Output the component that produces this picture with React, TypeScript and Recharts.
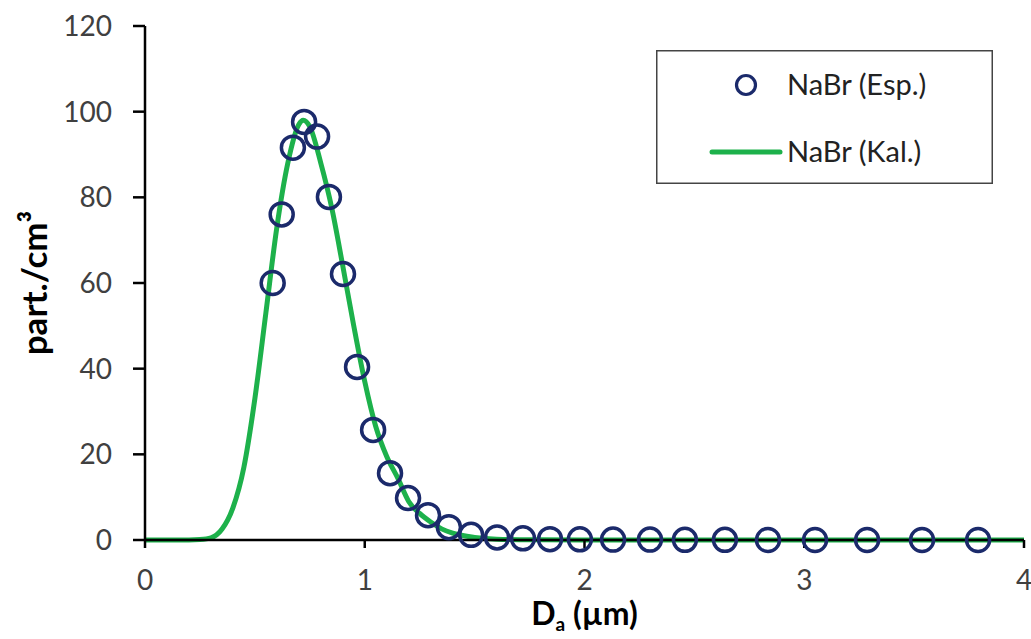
import React from "react";
import { ComposedChart, Line, Scatter, XAxis, YAxis, Legend, Label } from "recharts";

// measured points (Esp.)
const espX = [0.581, 0.622, 0.673, 0.724, 0.783, 0.837, 0.901, 0.965, 1.038, 1.115, 1.197, 1.288, 1.383, 1.484, 1.602, 1.72, 1.843, 1.979, 2.13, 2.298, 2.457, 2.639, 2.835, 3.049, 3.286, 3.536, 3.791];
const espY = [60, 76, 91.6, 97.6, 94.2, 80.1, 62.1, 40.4, 25.7, 15.6, 9.8, 5.8, 3.0, 1.2, 0.6, 0.4, 0.2, 0.15, 0.1, 0.1, 0.05, 0.05, 0, 0, 0, 0, 0];

// calculated curve (Kal.)
const kalX = [0, 0.1, 0.2, 0.25, 0.3, 0.35, 0.4, 0.45, 0.5, 0.55, 0.6, 0.65, 0.7, 0.72, 0.75, 0.8, 0.85, 0.9, 0.95, 1.0, 1.05, 1.1, 1.15, 1.2, 1.25, 1.3, 1.35, 1.4, 1.5, 1.6, 1.8, 2.0, 2.5, 3.0, 3.5, 4.0];
const kalY = [0, 0, 0, 0.1, 0.5, 2.5, 7.5, 17, 33, 53, 73, 88, 97, 98, 96.5, 88, 77.5, 64, 50, 37, 26.5, 19.5, 14.5, 9, 6.2, 4.2, 2.6, 1.6, 0.6, 0.2, 0.05, 0, 0, 0, 0, 0];

const xTicks = [0, 1, 2, 3, 4];
const yTicks = [0, 20, 40, 60, 80, 100, 120];

const espData = espX.map((x, i) => ({ x, y: espY[i] }));
const kalData = kalX.map((x, i) => ({ x, y: kalY[i] }));

const NAVY = "#1B2A6B";
const GREEN = "#1DB14B";
const FONT = "Lato, 'Open Sans', sans-serif";

const OpenCircle = (props: any) => {
  const { cx, cy } = props;
  if (cx == null || cy == null) return null;
  return <circle cx={cx} cy={cy} r={11.5} fill="none" stroke={NAVY} strokeWidth={3.5} />;
};

const YTitle = ({ viewBox }: any) => {
  const x = viewBox.x + 47;
  const y = viewBox.y + viewBox.height / 2;
  return (
    <text
      x={x}
      y={y}
      transform={`rotate(-90, ${x}, ${y})`}
      textAnchor="middle"
      fontFamily={FONT}
      fontWeight="bold"
      fontSize={35}
      fill="#000"
    >
      part./cm³
    </text>
  );
};

const XTitle = ({ viewBox }: any) => {
  const x = viewBox.x + viewBox.width / 2;
  return (
    <text x={x} y={625} textAnchor="middle" fontFamily={FONT} fontWeight="bold" fontSize={32} fill="#000">
      D
      <tspan dy={6} fontSize={19}>a</tspan>
      <tspan dy={-6}> (µm)</tspan>
    </text>
  );
};

const LegendBox = () => (
  <svg width={337} height={134} style={{ display: "block" }}>
    <rect x={0.75} y={0.75} width={335.5} height={132.5} fill="#fff" stroke="#444" strokeWidth={1.5} />
    <circle cx={90} cy={35} r={9.5} fill="none" stroke={NAVY} strokeWidth={3.2} />
    <text x={131} y={35} dy="0.35em" fontFamily={FONT} fontSize={29} fill="#222">
      NaBr (Esp.)
    </text>
    <line x1={56} y1={102} x2={124} y2={102} stroke={GREEN} strokeWidth={5} strokeLinecap="round" />
    <text x={131} y={102} dy="0.35em" fontFamily={FONT} fontSize={29} fill="#222">
      NaBr (Kal.)
    </text>
  </svg>
);

export default function App() {
  return (
    <div style={{ position: "absolute", left: 0, top: 0, background: "#fff" }}>
      <ComposedChart width={1031} height={639} margin={{ top: 26, right: 7, bottom: 0, left: 0 }}>
        <XAxis
          dataKey="x"
          type="number"
          domain={[0, 4]}
          ticks={xTicks}
          height={99}
          tickSize={8}
          tickMargin={22}
          axisLine={{ stroke: "#000", strokeWidth: 2.5 }}
          tickLine={{ stroke: "#000", strokeWidth: 2.5 }}
          tick={{ fill: "#404040", fontSize: 28, fontFamily: FONT }}
        >
          <Label content={<XTitle />} />
        </XAxis>
        <YAxis
          dataKey="y"
          type="number"
          domain={[0, 120]}
          ticks={yTicks}
          width={145}
          tickSize={12}
          tickMargin={21}
          axisLine={{ stroke: "#000", strokeWidth: 2.5 }}
          tickLine={{ stroke: "#000", strokeWidth: 2.5 }}
          tick={{ fill: "#404040", fontSize: 28, fontFamily: FONT }}
        >
          <Label content={<YTitle />} />
        </YAxis>
        <Line
          data={kalData}
          dataKey="y"
          type="monotone"
          stroke={GREEN}
          strokeWidth={5}
          dot={false}
          activeDot={false}
          isAnimationActive={false}
          name="NaBr (Kal.)"
        />
        <Scatter
          data={espData}
          dataKey="y"
          shape={<OpenCircle />}
          isAnimationActive={false}
          name="NaBr (Esp.)"
        />
        <Legend
          layout="horizontal"
          verticalAlign="middle"
          align="center"
          content={<LegendBox />}
          wrapperStyle={{ left: 656, top: 50, width: 337, height: 134 }}
        />
      </ComposedChart>
    </div>
  );
}
